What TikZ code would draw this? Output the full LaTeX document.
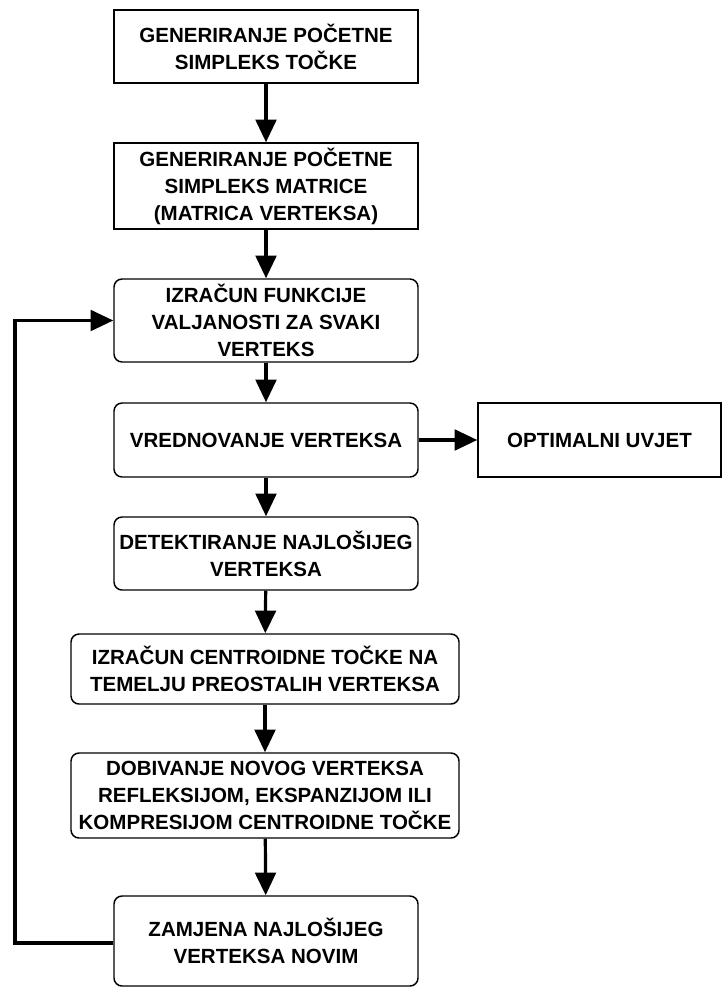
\documentclass[tikz,border=0pt]{standalone}
\usepackage{fontspec}
\setmainfont{Liberation Sans}
\usetikzlibrary{arrows.meta}

\begin{document}
\begin{tikzpicture}[x=0.75pt,y=-0.75pt,line width=2.4pt,
    >={Triangle[length=17pt,width=15.5pt]},
    blok/.style={draw,line width=1.1pt,align=center,inner sep=0pt,
      font=\bfseries\fontsize{15.4}{20.2}\selectfont,
      minimum width=228pt},
    zaobljen/.style={blok,rounded corners=6pt}]
  \useasboundingbox (0,0) rectangle (723,988);

  \node[blok,minimum height=54.75pt] (poc) at (266,46.5)
    {GENERIRANJE POČETNE\\SIMPLEKS TOČKE};
  \node[blok,minimum height=64.5pt] (mat) at (266,186)
    {GENERIRANJE POČETNE\\SIMPLEKS MATRICE\\(MATRICA VERTEKSA)};
  \node[zaobljen,minimum height=62.25pt] (izr) at (266,320.5)
    {IZRAČUN FUNKCIJE\\VALJANOSTI ZA SVAKI\\VERTEKS};
  \node[zaobljen,minimum height=55.5pt] (vre) at (266,440)
    {VREDNOVANJE VERTEKSA};
  \node[blok,minimum width=182.25pt,minimum height=55.5pt] (opt) at (599.5,440)
    {OPTIMALNI UVJET};
  \node[zaobljen,minimum height=54.75pt] (det) at (266,553.5)
    {DETEKTIRANJE NAJLOŠIJEG\\VERTEKSA};
  \node[zaobljen,minimum width=291pt,minimum height=52.5pt] (cen) at (265,669)
    {IZRAČUN CENTROIDNE TOČKE NA\\TEMELJU PREOSTALIH VERTEKSA};
  \node[zaobljen,minimum width=291pt,minimum height=63.75pt] (dob) at (265,795.5)
    {DOBIVANJE NOVOG VERTEKSA\\REFLEKSIJOM, EKSPANZIJOM ILI\\KOMPRESIJOM CENTROIDNE TOČKE};
  \node[zaobljen,minimum height=67.5pt] (zam) at (266,941)
    {ZAMJENA NAJLOŠIJEG\\VERTEKSA NOVIM};

  % glavni tok
  \foreach \a/\b in {poc/mat,mat/izr,izr/vre,vre/det,det/cen,cen/dob,dob/zam}
    \draw[->] (\a) -- (\b);
  \draw[->] (vre) -- (opt);

  % povratna petlja
  \coordinate (dolje) at (15,943);
  \coordinate (gore) at (15,320.5);
  \draw[->] (zam.west |- dolje) -- (dolje) -- (gore) -- (izr.west);
\end{tikzpicture}
\end{document}
